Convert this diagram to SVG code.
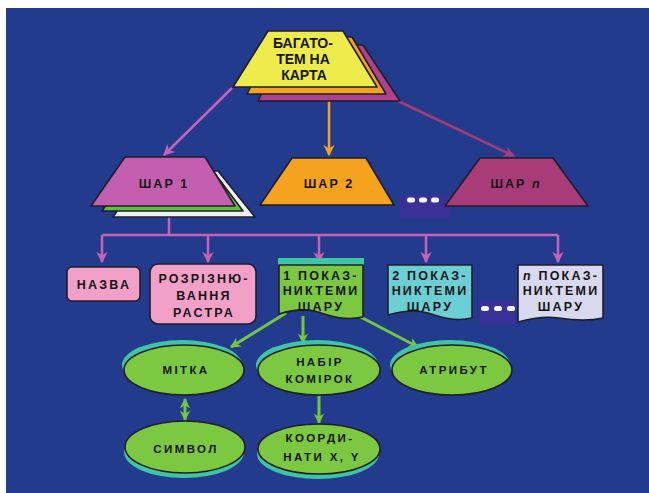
<svg xmlns="http://www.w3.org/2000/svg" width="649" height="493" viewBox="0 0 649 493">
<defs>
<style>
.t{font-family:"Liberation Sans",Arial,sans-serif;font-weight:bold;fill:#151515;text-anchor:middle}
.t13{font-size:14px}
.t11{font-size:12.5px;letter-spacing:2px}
.t12{font-size:12.5px;letter-spacing:2.2px}
.te{font-size:11.5px;letter-spacing:2.4px}
.ol{stroke:#1e1e28;stroke-width:1.6;stroke-linejoin:round}
.ell{fill:#7cc840;stroke:#1e1e28;stroke-width:1.6}
.sh{fill:#3fc4a6}
.g{stroke:#74c840;stroke-width:3;fill:none}
.m{stroke:#c862b6;stroke-width:2.5;fill:none}
.pill{fill:#ffffff}
</style>
<marker id="aM" viewBox="0 0 10 10" refX="9" refY="5" markerWidth="4.5" markerHeight="4.5" orient="auto"><path d="M0,0 L10,5 L0,10 L3,5 z" fill="#c862b6"/></marker>
<marker id="aO" viewBox="0 0 10 10" refX="9" refY="5" markerWidth="4.5" markerHeight="4.5" orient="auto"><path d="M0,0 L10,5 L0,10 L3,5 z" fill="#f5a21e"/></marker>
<marker id="aR" viewBox="0 0 10 10" refX="9" refY="5" markerWidth="4.5" markerHeight="4.5" orient="auto"><path d="M0,0 L10,5 L0,10 L3,5 z" fill="#a83c78"/></marker>
<marker id="aG" viewBox="0 0 10 10" refX="9" refY="5" markerWidth="3.5" markerHeight="3.5" orient="auto"><path d="M0,0 L10,5 L0,10 L3,5 z" fill="#74c840"/></marker>
<marker id="aGs" viewBox="0 0 10 10" refX="1" refY="5" markerWidth="3.5" markerHeight="3.5" orient="auto"><path d="M10,0 L0,5 L10,10 L7,5 z" fill="#74c840"/></marker>
</defs>
<rect x="0" y="0" width="649" height="493" fill="#ffffff"/>
<rect x="6" y="8" width="643" height="485" fill="#233b8c"/>

<g id="connectors">
<line x1="232" y1="88" x2="164" y2="155" stroke="#c862b6" stroke-width="2.5" marker-end="url(#aM)"/>
<line x1="329" y1="94" x2="329" y2="155" stroke="#f5a21e" stroke-width="2.5" marker-end="url(#aO)"/>
<line x1="398" y1="101" x2="514" y2="156" stroke="#a83c78" stroke-width="2.5" marker-end="url(#aR)"/>
<polyline class="m" points="169,217 169,235"/>
<polyline class="m" points="102,235 558,235"/>
<line class="m" x1="102" y1="235" x2="102" y2="262" marker-end="url(#aM)"/>
<line class="m" x1="208" y1="235" x2="208" y2="262" marker-end="url(#aM)"/>
<line class="m" x1="319" y1="235" x2="319" y2="262" marker-end="url(#aM)"/>
<line class="m" x1="426" y1="235" x2="426" y2="262" marker-end="url(#aM)"/>
<line class="m" x1="558" y1="235" x2="558" y2="262" marker-end="url(#aM)"/>
<line class="g" x1="286" y1="313" x2="231" y2="347" marker-end="url(#aG)"/>
<line class="g" x1="303" y1="316" x2="303" y2="343" marker-end="url(#aG)"/>
<line class="g" x1="355" y1="314" x2="418" y2="347" marker-end="url(#aG)"/>
<line class="g" x1="185" y1="399" x2="185" y2="420" marker-start="url(#aGs)" marker-end="url(#aG)"/>
<line class="g" x1="319" y1="396" x2="319" y2="423" marker-end="url(#aG)"/>
</g>

<g id="map">
<polygon class="ol" points="285,45 363,45 400,101 258,101" fill="#b0418f"/>
<polygon class="ol" points="276,37 352,37 386,94 247,94" fill="#f5a21e"/>
<polygon class="ol" points="268,31 343,31 377,87 233,87" fill="#eeec4a"/>
<text class="t t13" x="303" y="48">БАГАТО-</text>
<text class="t t13" x="303" y="63.5">ТЕМ НА</text>
<text class="t t13" x="304" y="80">КАРТА</text>
</g>

<g id="layer1">
<polygon class="ol" points="145,171 218,171 255,217 113,217" fill="#f0f0f4"/>
<polygon class="ol" points="135,163 207,163 243,211 102,211" fill="#5cc23c"/>
<polygon class="ol" points="125,157 205,157 235,206 91,206" fill="#c35fae"/>
<text class="t t11" x="164" y="187.5">ШАР 1</text>
</g>

<g id="layer2">
<polygon class="ol" points="292,158 366,158 394,205 260,205" fill="#f5a21e"/>
<text class="t t11" x="329" y="187.5">ШАР 2</text>
</g>

<g id="dots1">
<rect x="400" y="195" width="50" height="23" rx="3" fill="#3a3198"/>
<rect class="pill" x="407" y="197.5" width="8" height="5" rx="2.5"/>
<rect class="pill" x="419" y="197.5" width="8" height="5" rx="2.5"/>
<rect class="pill" x="431" y="197.5" width="8" height="5" rx="2.5"/>
</g>

<g id="layerN">
<polygon class="ol" points="480,158 553,158 588,206 445,206" fill="#a83c78"/>
<text class="t t11" x="516" y="187.5">ШАР <tspan font-style="italic">n</tspan></text>
</g>

<g id="name">
<rect class="ol" x="67" y="267" width="73" height="34" rx="5" fill="#f2a0c8"/>
<text class="t t12" x="104" y="288.5">НАЗВА</text>
</g>

<g id="resolution">
<rect class="ol" x="150" y="264" width="106" height="60" rx="8" fill="#f2a0c8"/>
<text class="t t12" x="204" y="282.5">РОЗРІЗНЮ-</text>
<text class="t t12" x="204" y="299.5">ВАННЯ</text>
<text class="t t12" x="204" y="316.5">РАСТРА</text>
</g>

<g id="ind1">
<rect x="278" y="258" width="86" height="7" fill="#3fc4a6"/>
<path class="ol" d="M279,265 L363,265 L363,317 C345,321 330,316 318,312 C305,308 292,310 279,314 Z" fill="#7cc840"/>
<text class="t t12" x="321" y="279.5">1 ПОКАЗ-</text>
<text class="t t12" x="321" y="294.5">НИКТЕМИ</text>
<text class="t t12" x="321" y="311">ШАРУ</text>
</g>

<g id="ind2">
<path class="ol" d="M388,265 L472,265 L472,318 C455,322 440,317 428,313 C415,309 402,311 388,315 Z" fill="#6ccfd6"/>
<text class="t t12" x="430" y="279.5">2 ПОКАЗ-</text>
<text class="t t12" x="430" y="294.5">НИКТЕМИ</text>
<text class="t t12" x="430" y="311">ШАРУ</text>
</g>

<g id="dots2">
<rect x="480" y="300" width="35" height="25" rx="3" fill="#3a3198"/>
<rect class="pill" x="481" y="306" width="8" height="5" rx="2.5"/>
<rect class="pill" x="494" y="306" width="8" height="5" rx="2.5"/>
<rect class="pill" x="507" y="306" width="8" height="5" rx="2.5"/>
</g>

<g id="indN">
<path class="ol" d="M518,265 L603,265 L603,318 C586,322 571,320 559,318 C546,316 532,318 518,322 Z" fill="#d8d8ee"/>
<text class="t t12" x="561" y="279.5"><tspan font-style="italic">n</tspan> ПОКАЗ-</text>
<text class="t t12" x="561" y="294.5">НИКТЕМИ</text>
<text class="t t12" x="561" y="311">ШАРУ</text>
</g>

<g id="mark">
<ellipse class="sh" cx="182" cy="365" rx="60" ry="25"/>
<ellipse class="ell" cx="184" cy="370" rx="60" ry="25"/>
<text class="t te" x="186" y="374">МІТКА</text>
</g>

<g id="cells">
<ellipse class="sh" cx="317" cy="365" rx="61" ry="25"/>
<ellipse class="ell" cx="319" cy="370" rx="61" ry="25"/>
<text class="t te" x="320" y="366">НАБІР</text>
<text class="t te" x="320" y="383">КОМІРОК</text>
</g>

<g id="attribute">
<ellipse class="sh" cx="450" cy="365" rx="60" ry="25"/>
<ellipse class="ell" cx="452" cy="370" rx="60" ry="25"/>
<text class="t te" x="454" y="374">АТРИБУТ</text>
</g>

<g id="symbol">
<ellipse class="sh" cx="184" cy="452" rx="60" ry="26"/>
<ellipse class="ell" cx="185" cy="447" rx="60" ry="26"/>
<text class="t te" x="186" y="453">СИМВОЛ</text>
</g>

<g id="coords">
<ellipse class="sh" cx="318" cy="454" rx="61" ry="25"/>
<ellipse class="ell" cx="319" cy="449" rx="61" ry="25"/>
<text class="t te" x="320" y="442">КООРДИ-</text>
<text class="t te" x="322" y="461">НАТИ X, Y</text>
</g>
</svg>
